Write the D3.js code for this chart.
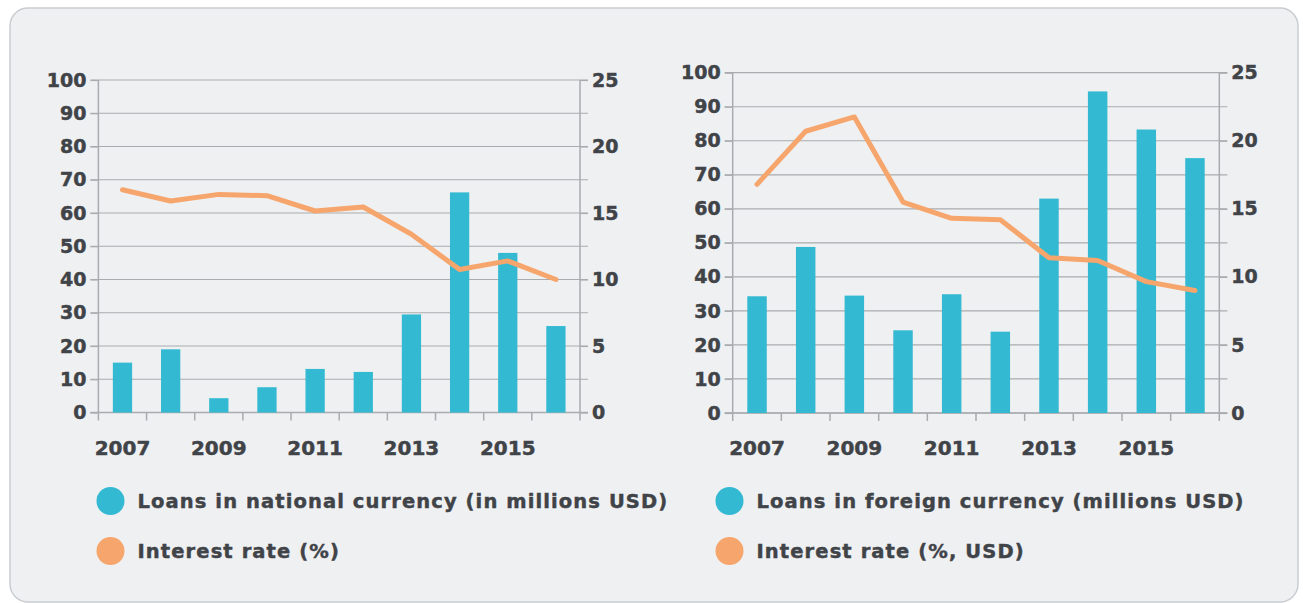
<!DOCTYPE html>
<html>
<head>
<meta charset="utf-8">
<script src="https://cdn.jsdelivr.net/npm/d3@7"></script>
<style>
  html, body { margin: 0; padding: 0; background: #fff; }
  svg { display: block; font-family: "DejaVu Sans", sans-serif; font-weight: bold; }
  svg text { stroke: #404347; stroke-width: 0.45px; }
</style>
</head>
<body>
<svg id="chart" width="1303" height="603"></svg>
<script>
// data
const years = [2007, 2008, 2009, 2010, 2011, 2012, 2013, 2014, 2015, 2016];
const yearLabels = [2007, 2009, 2011, 2013, 2015];
const loanTicks = [0, 10, 20, 30, 40, 50, 60, 70, 80, 90, 100];
const rateTicks = [0, 5, 10, 15, 20, 25];

const nationalLoans = [15, 19, 4.3, 7.6, 13.1, 12.2, 29.5, 66.2, 48, 26];
const nationalRate = [16.75, 15.9, 16.4, 16.3, 15.15, 15.45, 13.4, 10.75, 11.4, 10.0];
const foreignLoans = [34.3, 48.8, 34.5, 24.3, 34.9, 23.9, 63, 94.5, 83.3, 74.9];
const foreignRate = [16.8, 20.7, 21.75, 15.5, 14.3, 14.2, 11.4, 11.2, 9.65, 9.0];

const nationalLegend = ["Loans in national currency (in millions USD)", "Interest rate (%)"];
const foreignLegend = ["Loans in foreign currency (millions USD)", "Interest rate (%, USD)"];

const barColor = "#33b9d2";
const lineColor = "#f6a66c";
const textColor = "#404347";
const gridColor = "#a9abae";

const svg = d3.select("#chart");

// panel background
svg.append("rect")
  .attr("x", 10).attr("y", 8)
  .attr("width", 1288).attr("height", 594)
  .attr("rx", 18)
  .attr("fill", "#eff0f2")
  .attr("stroke", "#c9cdd1")
  .attr("stroke-width", 1.5);

function drawChart(box, loans, rates, legend) {
  const g = svg.append("g");

  const x = d3.scaleBand().domain(years).range([box.left, box.right]);
  const y = d3.scaleLinear().domain([0, 100]).range([box.bottom, box.top]);
  const y2 = d3.scaleLinear().domain([0, 25]).range([box.bottom, box.top]);

  // gridlines
  g.append("g").selectAll("line")
    .data(loanTicks)
    .join("line")
    .attr("x1", box.left - 8).attr("x2", box.right + 8)
    .attr("y1", d => y(d)).attr("y2", d => y(d))
    .attr("stroke", gridColor).attr("stroke-width", 1.2);

  // left axis
  const ax = g.append("g")
    .attr("transform", `translate(${box.left},0)`)
    .call(d3.axisLeft(y).tickValues(loanTicks).tickSize(8).tickPadding(4));
  // right axis
  const ax2 = g.append("g")
    .attr("transform", `translate(${box.right},0)`)
    .call(d3.axisRight(y2).tickValues(rateTicks).tickSize(8).tickPadding(4));

  [ax, ax2].forEach(a => {
    a.select(".domain").remove();
    a.selectAll(".tick line").attr("stroke", gridColor).attr("stroke-width", 1.2);
    a.selectAll("text")
      .attr("fill", textColor)
      .style("font-size", "19px")
      .style("font-family", "DejaVu Sans")
      .style("font-weight", "bold");
  });

  // vertical axis lines extend below zero
  g.selectAll(".vline")
    .data([box.left, box.right])
    .join("line")
    .attr("x1", d => d).attr("x2", d => d)
    .attr("y1", box.top).attr("y2", box.bottom + 8)
    .attr("stroke", gridColor).attr("stroke-width", 1.5);

  // x ticks at band edges
  g.append("g").selectAll("line")
    .data(years.slice(1))
    .join("line")
    .attr("x1", d => x(d)).attr("x2", d => x(d))
    .attr("y1", box.bottom).attr("y2", box.bottom + 8)
    .attr("stroke", gridColor).attr("stroke-width", 1.5);

  // zero baseline
  g.append("line")
    .attr("x1", box.left - 8).attr("x2", box.right + 8)
    .attr("y1", y(0)).attr("y2", y(0))
    .attr("stroke", gridColor).attr("stroke-width", 1.5);

  // bars
  const bw = x.bandwidth() * 0.4;
  g.append("g").selectAll("rect")
    .data(years)
    .join("rect")
    .attr("x", d => x(d) + (x.bandwidth() - bw) / 2)
    .attr("width", bw)
    .attr("y", (d, i) => y(loans[i]))
    .attr("height", (d, i) => y(0) - y(loans[i]))
    .attr("fill", barColor);

  // rate line
  const line = d3.line()
    .x((d, i) => x(years[i]) + x.bandwidth() / 2)
    .y(d => y2(d));
  g.append("path")
    .datum(rates)
    .attr("d", line)
    .attr("fill", "none")
    .attr("stroke", lineColor)
    .attr("stroke-width", 5)
    .attr("stroke-linejoin", "round")
    .attr("stroke-linecap", "round");

  // year labels
  g.append("g").selectAll("text")
    .data(yearLabels)
    .join("text")
    .attr("x", d => x(d) + x.bandwidth() / 2)
    .attr("y", box.bottom + 42)
    .attr("text-anchor", "middle")
    .attr("fill", textColor)
    .style("font-size", "20px")
    .text(d => d);

  // legend
  const lg = g.append("g").selectAll("g")
    .data(legend)
    .join("g")
    .attr("transform", (d, i) => `translate(${box.legendX},${501 + i * 50})`);
  lg.append("circle")
    .attr("r", 14)
    .attr("fill", (d, i) => i === 0 ? barColor : lineColor);
  lg.append("text")
    .attr("x", 27)
    .attr("dy", "0.36em")
    .attr("fill", textColor)
    .style("font-size", "19.5px")
    .style("letter-spacing", "1.1px")
    .text(d => d);
}

drawChart({ left: 98.4, right: 580, top: 80, bottom: 412.5, legendX: 110.5 },
  nationalLoans, nationalRate, nationalLegend);
drawChart({ left: 732.7, right: 1219.3, top: 72.7, bottom: 413, legendX: 729.5 },
  foreignLoans, foreignRate, foreignLegend);
</script>
</body>
</html>
